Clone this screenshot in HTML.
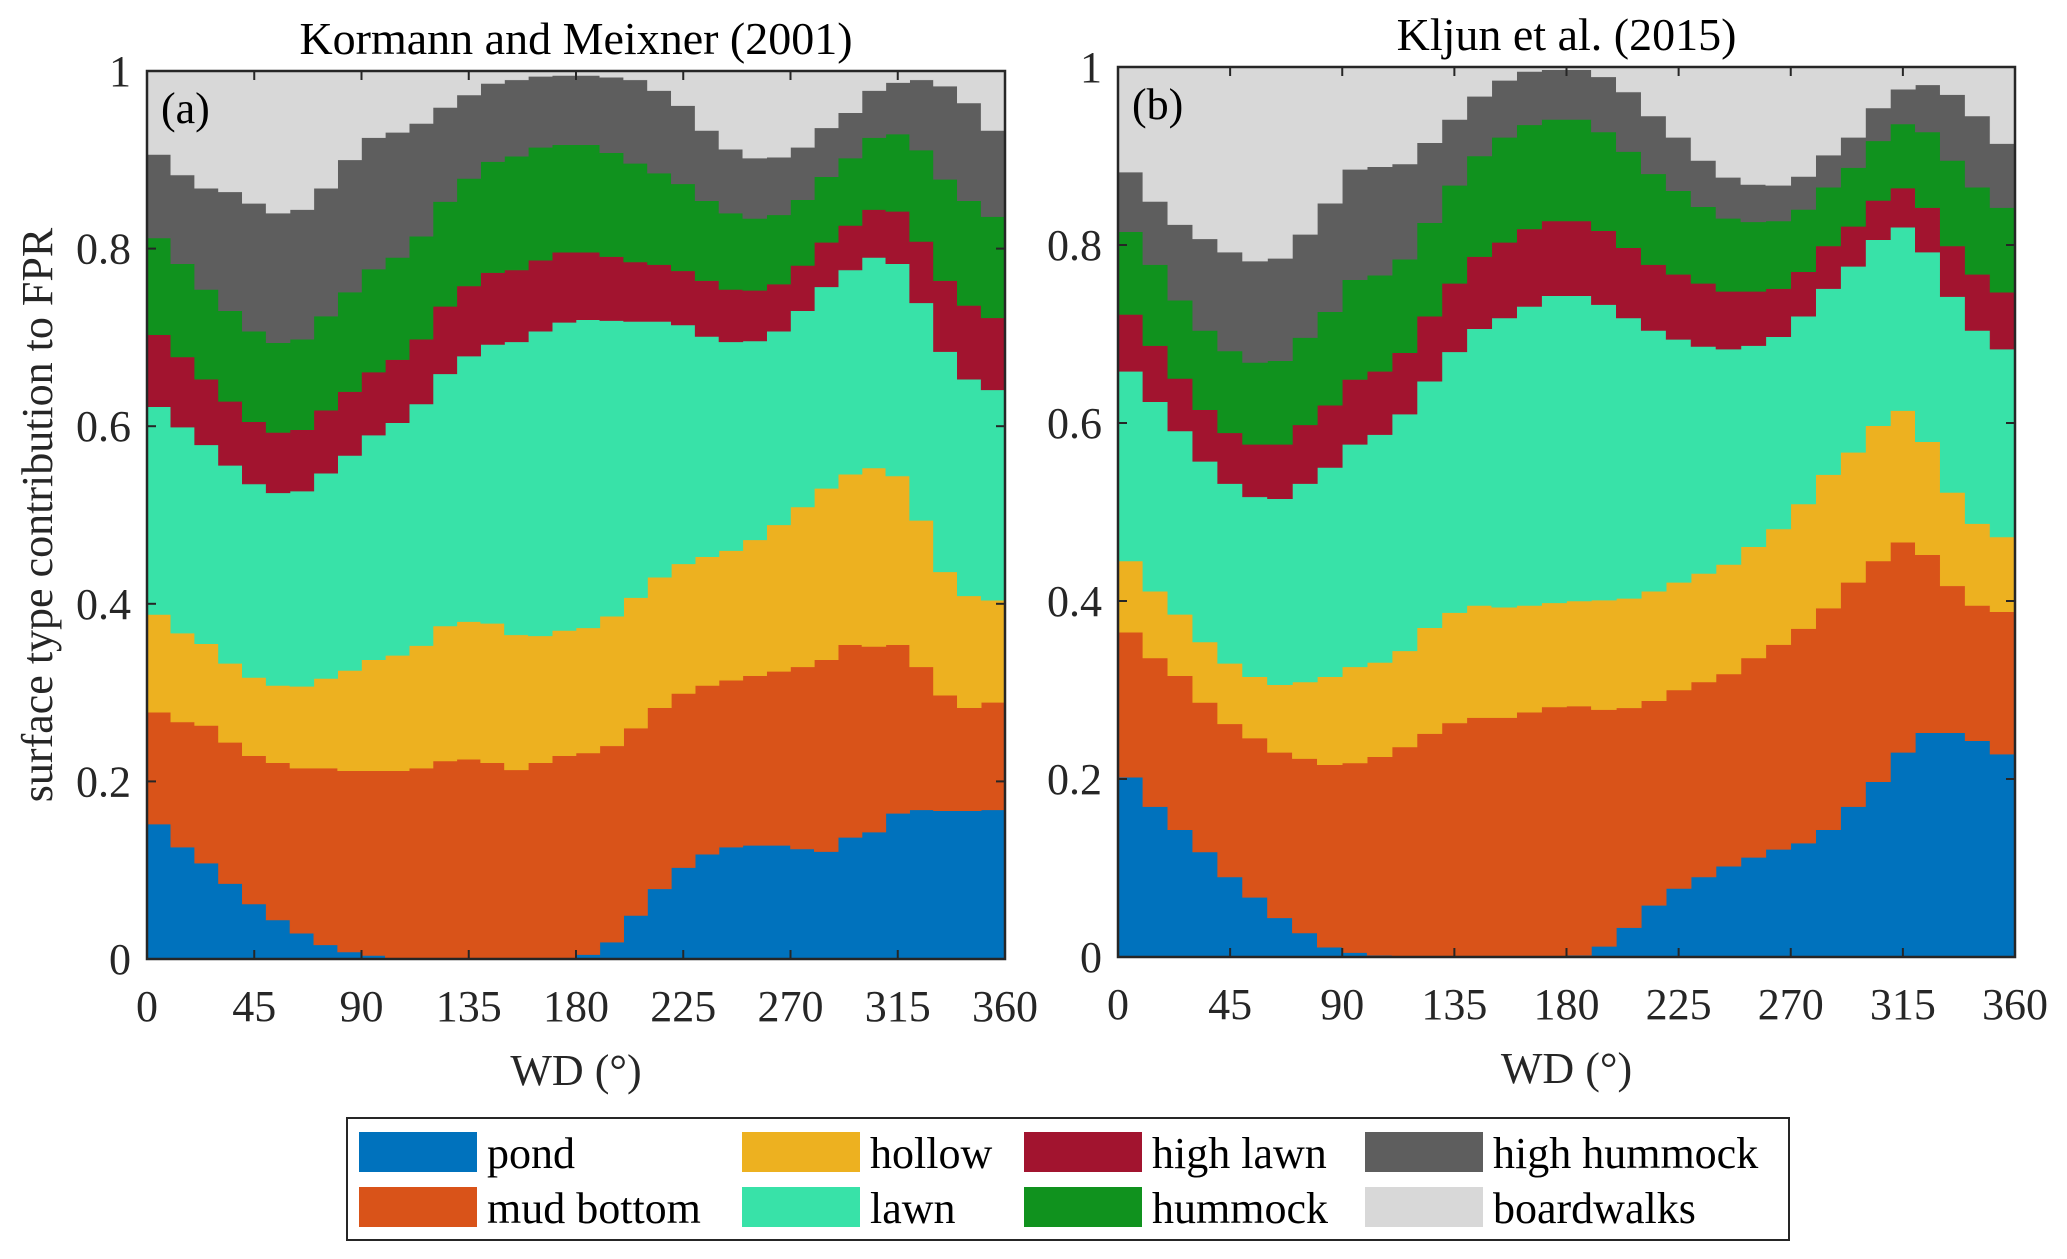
<!DOCTYPE html>
<html><head><meta charset="utf-8"><style>
html,body{margin:0;padding:0;background:#fff;}
svg{display:block;font-family:"Liberation Serif",serif;}
</style></head><body>
<svg id="chart" width="2067" height="1259" viewBox="0 0 2067 1259"></svg>
<script>
// Wind-direction bin starts (degrees)
const bins = [0,10,20,30,40,50,60,70,80,90,100,110,120,130,140,150,160,170,180,190,200,210,220,230,240,250,260,270,280,290,300,310,320,330,340,350];
const xTicks = [0,45,90,135,180,225,270,315,360];
const yTicks = [0,0.2,0.4,0.6,0.8,1];
const yTickLabels = ["0","0.2","0.4","0.6","0.8","1"];
const seriesNames = ["pond","mud bottom","hollow","lawn","high lawn","hummock","high hummock","boardwalks"];
const seriesColors = ["#0072BD","#D95319","#EDB120","#38E2A8","#A2142F","#10921E","#5E5E5E","#D8D8D8"];

// Panel (a) Kormann and Meixner: cumulative upper boundaries of each layer
const aPondTop = [.152,.126,.108,.085,.062,.044,.029,.016,.008,.004,0,0,0,0,0,0,0,0,.005,.019,.049,.079,.103,.118,.126,.128,.128,.124,.121,.137,.143,.164,.168,.167,.167,.168];
const aMudTop = [.278,.267,.263,.244,.229,.221,.215,.215,.212,.212,.212,.215,.223,.225,.221,.213,.221,.229,.232,.240,.260,.283,.299,.308,.314,.319,.324,.329,.337,.354,.352,.354,.329,.297,.283,.289];
const aHollowTop = [.388,.367,.355,.333,.317,.308,.307,.316,.325,.337,.342,.353,.375,.380,.378,.365,.364,.370,.373,.386,.407,.430,.445,.453,.460,.472,.489,.509,.530,.546,.553,.544,.494,.436,.409,.404];
const aLawnTop = [.622,.599,.579,.556,.535,.525,.527,.547,.567,.590,.604,.625,.659,.679,.692,.695,.707,.717,.720,.719,.718,.718,.714,.701,.695,.696,.707,.730,.757,.776,.790,.783,.739,.684,.653,.641];
const aHighLawnTop = [.703,.678,.653,.628,.605,.593,.596,.618,.639,.661,.675,.698,.735,.758,.773,.776,.787,.796,.796,.791,.785,.782,.775,.764,.754,.753,.760,.781,.807,.826,.844,.842,.808,.764,.736,.722];
const aHummockTop = [.812,.783,.754,.730,.707,.694,.698,.724,.751,.777,.790,.814,.853,.879,.898,.904,.914,.917,.917,.908,.896,.885,.873,.854,.840,.834,.838,.855,.881,.902,.925,.929,.911,.878,.854,.836];
const aHighHummockTop = [.906,.883,.868,.864,.851,.840,.844,.868,.900,.925,.931,.941,.959,.973,.986,.990,.994,.995,.995,.993,.990,.978,.961,.933,.912,.902,.903,.914,.936,.953,.978,.987,.990,.983,.964,.933];

// Panel (b) Kljun et al.
const bPondTop = [.202,.169,.143,.118,.090,.067,.044,.027,.011,.005,.002,0,0,0,0,0,0,0,.002,.012,.033,.058,.077,.090,.102,.112,.121,.128,.143,.169,.197,.230,.252,.252,.243,.228];
const bMudTop = [.365,.336,.316,.286,.262,.246,.230,.223,.216,.218,.225,.236,.251,.263,.269,.269,.275,.281,.282,.278,.280,.288,.300,.309,.318,.336,.351,.369,.392,.421,.445,.466,.452,.417,.395,.388];
const bHollowTop = [.445,.411,.385,.354,.330,.315,.306,.309,.315,.326,.331,.344,.370,.387,.395,.393,.395,.398,.400,.401,.403,.411,.421,.431,.441,.461,.481,.509,.542,.567,.597,.614,.579,.522,.487,.472];
const bLawnTop = [.658,.624,.591,.557,.532,.517,.515,.532,.550,.576,.587,.610,.647,.680,.706,.718,.731,.743,.743,.733,.718,.704,.694,.686,.683,.687,.697,.720,.751,.776,.806,.820,.792,.742,.704,.683];
const bHighLawnTop = [.722,.687,.650,.615,.589,.576,.576,.598,.620,.649,.658,.679,.720,.757,.787,.803,.818,.827,.827,.816,.797,.778,.767,.757,.748,.748,.751,.770,.799,.821,.850,.864,.842,.799,.767,.747];
const bHummockTop = [.815,.778,.738,.704,.681,.668,.670,.696,.725,.761,.766,.784,.825,.867,.900,.921,.935,.941,.941,.927,.905,.880,.861,.843,.830,.826,.827,.840,.865,.887,.917,.936,.927,.895,.865,.842];
const bHighHummockTop = [.882,.849,.823,.807,.792,.782,.785,.812,.847,.885,.888,.891,.915,.941,.967,.985,.995,.997,.997,.989,.972,.945,.921,.895,.876,.868,.867,.877,.901,.921,.954,.975,.980,.969,.945,.914];

const NS = "http://www.w3.org/2000/svg";
const svg = document.getElementById('chart');
function mk(tag, attrs, parent){
  const e = document.createElementNS(NS, tag);
  for (const k in attrs) e.setAttribute(k, attrs[k]);
  (parent||svg).appendChild(e);
  return e;
}
function toContrib(tops){
  // convert cumulative tops into per-layer contributions
  const out = []; 
  for (let s=0;s<tops.length;s++){
    out.push(bins.map((_,i)=> tops[s][i] - (s? tops[s-1][i] : 0)));
  }
  out.push(bins.map((_,i)=> 1 - tops[tops.length-1][i]));
  return out;
}

function drawPanel(p){
  const g = mk('g', {});
  
  
  const xs = v => p.x0 + (v/360)*(p.x1-p.x0);
  const ys = v => p.y0 - v*(p.y0-p.y1);
  const contrib = toContrib(p.tops);
  for (let s=0;s<contrib.length;s++){
    let d = '';
    // build stacked layer as polygon: upper boundary forward, lower backward
    const lower = bins.map((_,i)=>{ let c=0; for(let k=0;k<s;k++) c+=contrib[k][i]; return c; });
    const upper = bins.map((_,i)=> lower[i] + contrib[s][i]);
    let pts = [];
    bins.forEach((b,i)=>{ pts.push([xs(b), ys(upper[i])]); pts.push([xs(b+10), ys(upper[i])]); });
    for (let i=bins.length-1;i>=0;i--){ pts.push([xs(bins[i]+10), ys(lower[i])]); pts.push([xs(bins[i]), ys(lower[i])]); }
    d = 'M' + pts.map(q=>q[0].toFixed(2)+','+q[1].toFixed(2)).join('L') + 'Z';
    const path = mk('path', {d:d, fill:seriesColors[s], stroke:seriesColors[s], 'stroke-width':0.6}, g);
    
    
  }
  // ticks
  xTicks.forEach(t=>{
    const x = xs(t);
    const l1 = mk('line', {x1:x, x2:x, y1:p.y0, y2:p.y0-9, stroke:'#262626','stroke-width':2}, g);
     
    const l2 = mk('line', {x1:x, x2:x, y1:p.y1, y2:p.y1+9, stroke:'#262626','stroke-width':2}, g);
     
    const tx = mk('text', {x:x, y:p.y0+62, 'font-size':44, 'text-anchor':'middle', fill:'#262626'}, g);
     
    tx.textContent = String(t);
  });
  yTicks.forEach((t,i)=>{
    const y = ys(t);
    const l1 = mk('line', {x1:p.x0, x2:p.x0+9, y1:y, y2:y, stroke:'#262626','stroke-width':2}, g);
     
    const l2 = mk('line', {x1:p.x1, x2:p.x1-9, y1:y, y2:y, stroke:'#262626','stroke-width':2}, g);
     
    const tx = mk('text', {x:p.x0-16, y:y+15, 'font-size':44, 'text-anchor':'end', fill:'#262626'}, g);
     
    tx.textContent = yTickLabels[i];
  });
  const box = mk('rect', {x:p.x0, y:p.y1, width:p.x1-p.x0, height:p.y0-p.y1, fill:'none', stroke:'#262626','stroke-width':2.5}, g);
   
  const lab = mk('text', {x:p.x0+14, y:p.y1+52, 'font-size':44, fill:'#000'}, g);
   
  lab.textContent = p.label;
  const ti = mk('text', {x:(p.x0+p.x1)/2, y:p.y1-17, 'font-size':46, 'text-anchor':'middle', fill:'#000'}, g);
   
  ti.textContent = p.title;
  const xl = mk('text', {x:(p.x0+p.x1)/2, y:p.y0+126, 'font-size':44, 'text-anchor':'middle', fill:'#262626'}, g);
   
  xl.textContent = 'WD (°)';
}

drawPanel({id:'panel-a', x0:147, x1:1005, y0:959, y1:71, label:'(a)', title:'Kormann and Meixner (2001)',
  tops:[aPondTop,aMudTop,aHollowTop,aLawnTop,aHighLawnTop,aHummockTop,aHighHummockTop]});
drawPanel({id:'panel-b', x0:1118, x1:2015, y0:957, y1:67, label:'(b)', title:'Kljun et al. (2015)',
  tops:[bPondTop,bMudTop,bHollowTop,bLawnTop,bHighLawnTop,bHummockTop,bHighHummockTop]});

const yl = mk('text', {x:0, y:0, 'font-size':44, 'text-anchor':'middle', fill:'#262626', transform:'translate(52,515) rotate(-90)'});
 
yl.textContent = 'surface type contribution to FPR';

// legend
const lg = mk('g', {});
 
const lbox = mk('rect', {x:347, y:1118, width:1442, height:122, fill:'#fff', stroke:'#262626','stroke-width':2}, lg);
 
const colX = [359, 742, 1024, 1365];
const rowY = [1132, 1187];
seriesNames.forEach((n,i)=>{
  const c = Math.floor(i/2), r = i%2;
  const e = mk('g', {}, lg);
  
  
  const sw = mk('rect', {x:colX[c], y:rowY[r], width:118, height:40, fill:seriesColors[i]}, e);
   
  const t = mk('text', {x:colX[c]+128, y:rowY[r]+36, 'font-size':44, fill:'#000'}, e);
   
  t.textContent = n;
});
</script>
</body></html>
